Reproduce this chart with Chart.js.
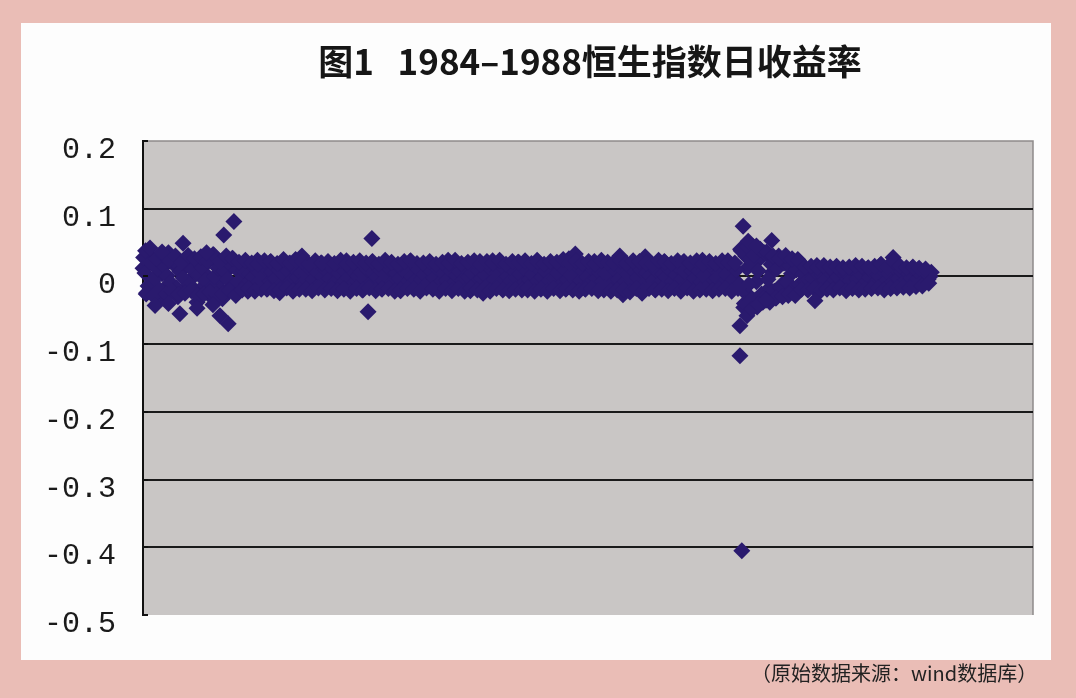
<!DOCTYPE html>
<html>
<head>
<meta charset="utf-8">
<title>1984-1988恒生指数日收益率</title>
<script src="https://cdn.jsdelivr.net/npm/chart.js@4.4.1/dist/chart.umd.min.js"></script>
<style>
    body { margin: 0; width: 1076px; height: 698px; background: #eabdb6; position: relative; overflow: hidden; }
    #panel { position: absolute; left: 21px; top: 23px; width: 1030px; height: 637px; background: #fdfdfd; }
    #source { position: absolute; left: 751px; top: 663px; font-size: 20px; line-height: 20px;
              font-family: "Noto Sans CJK SC", sans-serif; color: #222; white-space: nowrap; }
</style>
</head>
<body>
<div id="panel"><canvas id="hsi_chart" width="1030" height="637"></canvas></div>
<div id="source">（原始数据来源：wind数据库）</div>
<script>
// 图1 标题
var chartTitle = '图1   1984–1988恒生指数日收益率';

// y 轴刻度
var yTickValues = [0.2, 0.1, 0, -0.1, -0.2, -0.3, -0.4, -0.5];
var yTickLabels = ['0.2', '0.1', '0', '-0.1', '-0.2', '-0.3', '-0.4', '-0.5'];

// 交易日序号 0..1240，每 5 个交易日读一个值
// A 组从第 0 日起，B 组从第 3 日起，C 组从第 1 日起
var sampleStep = 5;
var offsetA = 0;
var offsetB = 3;
var offsetC = 1;
var returnsA = [
    // day 0-145
    0.012, -0.026, 0.030, -0.008, 0.020, -0.034, 0.004, -0.018, 0.035, -0.012,
    0.016, -0.030, 0.008, -0.022, 0.027, -0.004, 0.013, -0.038, 0.022, -0.015,
    0.002, -0.028, 0.032, -0.010, 0.018, -0.033, 0.006, -0.020, 0.026, -0.025,
    // day 150-245
    0.018, -0.010, 0.003, -0.022, 0.012, -0.004, 0.024, -0.015, 0.007, -0.019,
    0.021, -0.006, 0.010, -0.024, 0.001, -0.013, 0.019, -0.008, 0.025, -0.017,
    // day 250-935
    0.030, -0.012, 0.004, -0.019, 0.014, -0.003, 0.020, -0.014, 0.008, -0.007,
    0.017, -0.018, 0.002, -0.010, 0.023, -0.005, 0.011, -0.016, 0.006, -0.020,
    0.015, -0.004, 0.021, -0.013, 0.003, -0.018, 0.012, -0.008, 0.019, -0.015,
    0.007, -0.021, 0.016, -0.002, 0.022, -0.011, 0.005, -0.017, 0.013, -0.006,
    0.020, -0.015, 0.001, -0.019, 0.010, -0.007, 0.024, -0.012, 0.004, -0.016,
    0.014, -0.003, 0.019, -0.021, 0.008, -0.010, 0.022, -0.025, 0.006, -0.014,
    0.023, -0.008, 0.011, -0.018, 0.002, -0.013, 0.017, -0.005, 0.021, -0.016,
    0.009, -0.020, 0.015, -0.004, 0.024, -0.012, 0.003, -0.017, 0.012, -0.009,
    0.019, -0.014, 0.005, -0.019, 0.026, -0.006, 0.033, -0.011, 0.010, -0.018,
    0.016, -0.003, 0.022, -0.015, 0.007, -0.020, 0.013, -0.008, 0.020, -0.012,
    0.030, -0.027, 0.004, -0.016, 0.018, -0.006, 0.012, -0.025, 0.029, -0.010,
    0.014, -0.019, 0.002, -0.011, 0.022, -0.004, 0.017, -0.016, 0.008, -0.018,
    0.021, -0.007, 0.010, -0.020, 0.003, -0.013, 0.024, -0.009, 0.015, -0.017,
    0.006, -0.014, 0.019, -0.003, 0.023, -0.018, 0.011, -0.010,
    // day 940-1030 (1987年10月股灾前后)
    0.040, -0.046, 0.012, -0.030, 0.044, -0.008, 0.026, -0.038, 0.034, -0.018,
    0.006, -0.032, 0.030, -0.012, 0.020, -0.028, 0.004, -0.022, 0.025,
    // day 1035-1240
    -0.010, 0.014, -0.019, 0.004, -0.014, 0.016, -0.005, 0.012, -0.017, 0.008,
    -0.003, 0.013, -0.012, 0.010, -0.018, 0.002, -0.008, 0.014, -0.015, 0.010,
    -0.006, 0.012, -0.016, 0.005, -0.011, 0.017, -0.002, 0.013, -0.014, 0.028,
    -0.009, 0.013, -0.013, 0.003, -0.010, 0.012, -0.006, 0.011, -0.008, 0.009,
    -0.004, 0.006
];
var returnsB = [
    // day 3-148
    0.005, -0.014, 0.020, -0.003, 0.011, -0.021, 0.015, 0.001, -0.009, 0.024,
    -0.017, 0.007, -0.002, 0.018, -0.012, 0.010, -0.024, 0.003, 0.014, -0.006,
    0.022, -0.016, 0.000, 0.012, -0.019, 0.008, -0.004, 0.017, -0.013, 0.010,
    // day 153-248
    -0.005, 0.009, -0.012, 0.004, -0.001, 0.011, -0.008, 0.002, 0.012, -0.010,
    0.006, -0.003, 0.010, -0.011, 0.001, 0.008, -0.006, 0.012, -0.002, 0.005,
    // day 253-938
    -0.009, 0.003, 0.011, -0.005, 0.007, -0.012, 0.000, 0.009, -0.003, 0.012,
    -0.007, 0.005, -0.011, 0.008, -0.002, 0.010, -0.009, 0.001, 0.006, -0.004,
    0.011, -0.010, 0.004, -0.001, 0.009, -0.006, 0.002, 0.012, -0.008, 0.005,
    -0.003, 0.010, -0.012, 0.006, 0.000, -0.007, 0.011, -0.004, 0.003, -0.010,
    0.008, -0.002, 0.012, -0.009, 0.004, -0.005, 0.010, -0.011, 0.001, 0.007,
    -0.006, 0.011, -0.001, 0.005, -0.010, 0.009, -0.003, 0.002, -0.012, 0.010,
    -0.004, 0.006, -0.009, 0.012, 0.000, -0.007, 0.008, -0.002, 0.004, -0.011,
    0.009, -0.005, 0.003, -0.010, 0.011, -0.001, 0.007, -0.008, 0.012, -0.003,
    0.005, -0.012, 0.010, -0.004, 0.002, -0.009, 0.015, -0.006, 0.008, -0.001,
    -0.010, 0.011, -0.003, 0.006, -0.008, 0.004, 0.000, -0.011, 0.009, -0.005,
    0.012, -0.009, 0.003, -0.013, 0.007, -0.002, 0.010, -0.012, 0.005, 0.001,
    -0.006, 0.009, -0.010, 0.004, -0.001, 0.011, -0.007, 0.002, 0.012, -0.004,
    0.006, -0.011, 0.008, -0.003, 0.010, -0.008, 0.001, 0.005, -0.010, 0.011,
    -0.002, 0.007, -0.009, 0.003, 0.012, -0.005, 0.009, -0.012,
    // day 943-1033
    -0.020, 0.030, -0.012, 0.022, -0.035, 0.008, -0.026, 0.035, -0.004, 0.018,
    -0.022, 0.012, -0.016, 0.020, -0.008, 0.015, -0.018, 0.010, -0.012,
    // day 1038-1238
    0.004, -0.008, 0.010, -0.003, 0.007, -0.011, 0.002, -0.005, 0.009, -0.010,
    0.006, -0.001, 0.008, -0.009, 0.003, -0.006, 0.010, -0.004, 0.005, -0.012,
    0.009, -0.002, 0.006, -0.008, 0.001, 0.010, -0.007, 0.004, -0.010, 0.012,
    -0.003, 0.007, -0.008, 0.005, -0.002, 0.009, -0.005, 0.003, -0.006, 0.004,
    0.000
];
var returnsC = [
    // day 1-146
    0.028, -0.024, 0.022, -0.028, 0.027, -0.020, 0.032, -0.026, 0.024, -0.022,
    0.030, -0.027, 0.021, -0.025, 0.031, -0.021, 0.026, -0.028, 0.029, -0.026,
    0.023, -0.023, 0.032, -0.027, 0.022, -0.026, 0.030, -0.021, 0.027, -0.028,
    // day 151-246
    0.021, -0.020, 0.024, -0.018, 0.020, -0.022, 0.018, -0.019, 0.023, -0.018,
    0.022, -0.021, 0.019, -0.020, 0.025, -0.017, 0.020, -0.022, 0.023, -0.019,
    // day 251-936
    0.022, -0.019, 0.018, -0.021, 0.023, -0.017, 0.020, -0.020, 0.022, -0.018,
    0.019, -0.021, 0.024, -0.019, 0.018, -0.022, 0.021, -0.018, 0.023, -0.020,
    0.020, -0.017, 0.022, -0.021, 0.018, -0.019, 0.024, -0.018, 0.021, -0.022,
    0.018, -0.020, 0.022, -0.018, 0.023, -0.019, 0.019, -0.022, 0.020, -0.017,
    0.022, -0.019, 0.018, -0.022, 0.021, -0.018, 0.020, -0.021, 0.024, -0.018,
    0.019, -0.022, 0.021, -0.017, 0.023, -0.020, 0.018, -0.019, 0.022, -0.022,
    0.020, -0.018, 0.024, -0.020, 0.018, -0.021, 0.022, -0.019, 0.021, -0.020,
    0.023, -0.017, 0.019, -0.022, 0.022, -0.019, 0.018, -0.022, 0.022, -0.018,
    0.021, -0.021, 0.025, -0.018, 0.020, -0.020, 0.023, -0.022, 0.019, -0.019,
    0.022, -0.018, 0.018, -0.021, 0.024, -0.017, 0.021, -0.022, 0.020, -0.020,
    0.023, -0.019, 0.019, -0.023, 0.023, -0.018, 0.022, -0.022, 0.020, -0.018,
    0.018, -0.020, 0.024, -0.019, 0.021, -0.021, 0.019, -0.018, 0.023, -0.022,
    0.022, -0.017, 0.020, -0.022, 0.023, -0.020, 0.018, -0.019, 0.022, -0.021,
    0.019, -0.019, 0.023, -0.018, 0.021, -0.022, 0.020, -0.018,
    // day 941-1031
    0.038, -0.040, 0.044, -0.035, 0.032, -0.045, 0.040, -0.033, 0.036, -0.038,
    0.030, -0.032, 0.027, -0.030, 0.031, -0.026, 0.026, -0.028, 0.023,
    // day 1036-1236
    -0.019, 0.014, -0.020, 0.015, -0.018, 0.013, -0.021, 0.016, -0.019, 0.014,
    -0.020, 0.015, -0.017, 0.013, -0.021, 0.014, -0.018, 0.016, -0.020, 0.015,
    -0.019, 0.013, -0.018, 0.015, -0.017, 0.018, -0.020, 0.014, -0.018, 0.022,
    -0.017, 0.015, -0.016, 0.013, -0.017, 0.014, -0.015, 0.012, -0.014, 0.011,
    -0.010
];

// 突出的大波动日
var spikeDays    = [4, 11, 19, 30, 40, 58, 63, 85, 100, 110, 121, 127, 134, 143,
                    354, 360, 939, 939, 942, 944, 950, 952, 958, 965, 968, 980, 989, 1057];
var spikeReturns = [0.038, 0.042, -0.043, 0.036, -0.040, -0.055, 0.049, -0.047, 0.035, -0.042, -0.058, 0.061, -0.070, 0.081,
                    -0.052, 0.056, -0.073, -0.117, -0.405, 0.074, -0.058, 0.052, -0.048, 0.045, -0.042, -0.035, 0.053, -0.036];

document.addEventListener('DOMContentLoaded', function () {
    var ctx = document.getElementById('hsi_chart');

    var points = [];
    returnsA.forEach(function (r, i) { points.push({ x: offsetA + i * sampleStep, y: r }); });
    returnsB.forEach(function (r, i) { points.push({ x: offsetB + i * sampleStep, y: r }); });
    returnsC.forEach(function (r, i) { points.push({ x: offsetC + i * sampleStep, y: r }); });
    for (var k = 0; k < spikeDays.length; k++) {
        points.push({ x: spikeDays[k], y: spikeReturns[k] });
    }

    var plotBg = {
        id: 'plotBg',
        beforeDraw: function (chart) {
            var a = chart.chartArea, c = chart.ctx;
            c.save();
            c.fillStyle = '#c9c6c5';
            c.fillRect(a.left, a.top, a.right - a.left, a.bottom - a.top);
            c.strokeStyle = '#8f8b8b';
            c.lineWidth = 1.5;
            c.beginPath();
            c.moveTo(a.left, a.top);
            c.lineTo(a.right, a.top);
            c.lineTo(a.right, a.bottom);
            c.stroke();
            c.restore();
        },
        afterDraw: function (chart) {
            var a = chart.chartArea, c = chart.ctx, y = chart.scales.y;
            c.save();
            // short inside tick marks on the value axis
            c.strokeStyle = '#111';
            c.lineWidth = 2;
            yTickValues.forEach(function (v) {
                var py = Math.round(y.getPixelForValue(v));
                c.beginPath();
                c.moveTo(a.left, py);
                c.lineTo(a.left + 5, py);
                c.stroke();
            });
            c.fillStyle = '#161616';
            c.font = 'bold 35px "Noto Sans CJK SC"';
            c.textAlign = 'center';
            c.textBaseline = 'middle';
            c.fillText(chartTitle, (a.left + a.right) / 2 + 2, 39);
            c.restore();
        }
    };

    var hChart = new Chart(ctx, {
        type: 'scatter',
        data: {
            datasets: [{
                label: '日收益率',
                data: points,
                pointStyle: 'rectRot',
                pointRadius: 8.5,
                pointHoverRadius: 8.5,
                borderWidth: 0,
                backgroundColor: '#2a1a6e',
                clip: false
            }]
        },
        options: {
            responsive: false,
            animation: false,
            events: [],
            layout: { padding: { top: 118, bottom: 44, right: 18, left: 0 } },
            plugins: {
                legend: { display: false },
                tooltip: { enabled: false }
            },
            scales: {
                x: { type: 'linear', min: 0, max: 1400, display: false },
                y: {
                    min: -0.5,
                    max: 0.2,
                    afterBuildTicks: function (s) {
                        s.ticks = yTickValues.map(function (v) { return { value: v }; });
                    },
                    afterFit: function (s) { s.width = 122; },
                    grid: {
                        drawTicks: false,
                        lineWidth: 2,
                        color: function (c) {
                            var v = c.tick ? c.tick.value : 0;
                            return (v > 0.15 || v < -0.45) ? 'rgba(0,0,0,0)' : '#1a1a1a';
                        }
                    },
                    border: { display: true, color: '#111', width: 2 },
                    ticks: {
                        padding: 27,
                        labelOffset: 9,
                        color: '#1a1a1a',
                        font: { family: '"Liberation Mono", monospace', size: 30 },
                        callback: function (v) { return yTickLabels[yTickValues.indexOf(v)]; }
                    }
                }
            }
        },
        plugins: [plotBg]
    });
});
</script>
</body>
</html>
